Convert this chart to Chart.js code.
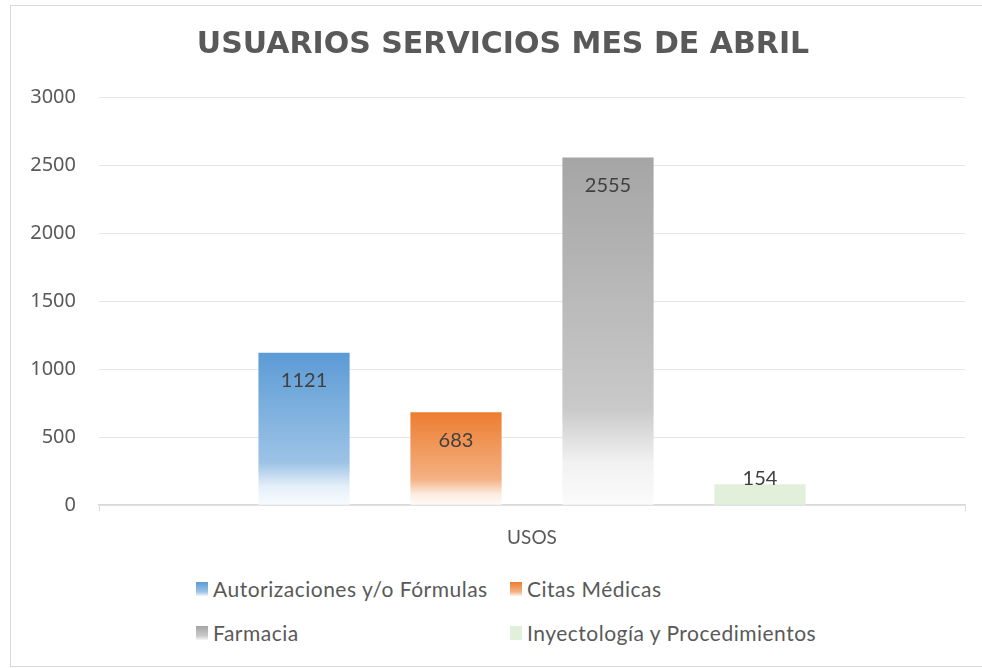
<!DOCTYPE html>
<html>
<head>
<meta charset="utf-8">
<script src="https://cdn.jsdelivr.net/npm/chart.js@4"></script>
<style>
    body { margin: 0; background: #fff; width: 982px; height: 668px; overflow: hidden; }
    #frame { position: absolute; left: 10px; top: 5px; width: 990px; height: 660px; border: 1px solid #d9d9d9; }
    #wrap { position: absolute; left: 0; top: 0; width: 972px; height: 558px; }
    #legend { position: absolute; left: 0; top: 554px; width: 972px; font-family: Lato, sans-serif; font-size: 21px; letter-spacing: 0.5px; color: #595959; }
    .item { position: absolute; display: flex; align-items: center; white-space: nowrap; }
    .box { width: 12px; height: 14px; margin-right: 5px; }
</style>
</head>
<body>
<div id="frame">
    <div id="wrap"><canvas id="chart"></canvas></div>
    <div id="legend"></div>
</div>
<script>
// Datos
const chartTitle = 'USUARIOS SERVICIOS MES DE ABRIL';
const categories = ['USOS'];
const seriesNames = ['Autorizaciones y/o Fórmulas', 'Citas Médicas', 'Farmacia', 'Inyectología y Procedimientos'];
const seriesValues = [[1121], [683], [2555], [154]];
const seriesColors = ['#5b9bd5', '#ed7d31', '#a5a5a5', '#e2efda'];
const yTicks = [0, 500, 1000, 1500, 2000, 2500, 3000];

// Mezclar color con blanco
function tint(hex, t) {
    const n = parseInt(hex.slice(1), 16);
    const r = (n >> 16) & 255, g = (n >> 8) & 255, b = n & 255;
    const mix = c => Math.round(c + (255 - c) * t);
    return `rgb(${mix(r)}, ${mix(g)}, ${mix(b)})`;
}

function barFill(ctx) {
    const chart = ctx.chart;
    const color = seriesColors[ctx.datasetIndex];
    const y = chart.scales.y;
    if (!chart.chartArea || !y || ctx.datasetIndex === 3) return color;
    const top = y.getPixelForValue(ctx.raw);
    const base = y.getPixelForValue(0);
    if (!isFinite(top) || !isFinite(base) || base - top < 1) return color;
    const g = chart.ctx.createLinearGradient(0, top, 0, base);
    g.addColorStop(0, color);
    g.addColorStop(0.72, tint(color, 0.4));
    g.addColorStop(0.88, tint(color, 0.85));
    g.addColorStop(1, tint(color, 0.96));
    return g;
}

// Etiquetas de datos
const valueLabels = {
    id: 'valueLabels',
    afterDatasetsDraw(chart) {
        const ctx = chart.ctx;
        ctx.save();
        ctx.font = '20px Lato, sans-serif';
        ctx.fillStyle = '#404040';
        ctx.textAlign = 'center';
        ctx.textBaseline = 'middle';
        chart.data.datasets.forEach((ds, i) => {
            chart.getDatasetMeta(i).data.forEach((bar, j) => {
                const y = Math.min(bar.y + 28, bar.base - 26);
                ctx.fillText(String(ds.data[j]), bar.x, y);
            });
        });
        ctx.restore();
    }
};

// Título (algo desplazado a la derecha, como en Excel)
const titleText = {
    id: 'titleText',
    afterDraw(chart) {
        const ctx = chart.ctx;
        ctx.save();
        ctx.font = 'bold 30px "DejaVu Sans", sans-serif';
        ctx.fillStyle = '#595959';
        ctx.textAlign = 'center';
        ctx.textBaseline = 'middle';
        ctx.fillText(chartTitle, chart.width / 2 + 6, 39);
        ctx.restore();
    }
};

const chart = new Chart(document.getElementById('chart'), {
    type: 'bar',
    data: {
        labels: categories,
        datasets: seriesNames.map((name, i) => ({
            label: name,
            data: seriesValues[i],
            backgroundColor: barFill,
            borderWidth: 0,
            categoryPercentage: 0.702,
            barPercentage: 0.6
        }))
    },
    options: {
        responsive: true,
        maintainAspectRatio: false,
        animation: false,
        layout: { padding: { left: 0, right: 18, top: 91, bottom: 0 } },
        plugins: {
            legend: { display: false },
            tooltip: { enabled: false },
            title: { display: false }
        },
        scales: {
            x: {
                grid: { offset: true, drawOnChartArea: false, drawTicks: true, tickLength: 6, color: '#d9d9d9' },
                border: { color: '#d9d9d9', width: 1.5 },
                ticks: { color: '#595959', font: { family: 'Lato', size: 19 }, padding: 15 }
            },
            y: {
                min: 0,
                max: 3000,
                afterFit(scale) { scale.width = 88; },
                afterBuildTicks(scale) { scale.ticks = yTicks.map(v => ({ value: v })); },
                grid: { color: '#e6e6e6', drawTicks: false },
                border: { display: false },
                ticks: {
                    color: '#595959',
                    font: { family: 'Noto Sans', size: 20 },
                    padding: 23,
                    callback: v => String(v)
                }
            }
        }
    },
    plugins: [valueLabels, titleText]
});

// Leyenda en dos columnas
const legend = document.getElementById('legend');
const legendPos = [[185, 28], [499, 28], [185, 72], [499, 72]];
seriesNames.forEach((name, i) => {
    const item = document.createElement('div');
    item.className = 'item';
    item.style.left = legendPos[i][0] + 'px';
    item.style.top = (legendPos[i][1] - 12) + 'px';
    const box = document.createElement('span');
    box.className = 'box';
    const c = seriesColors[i];
    box.style.background = i === 3 ? c : `linear-gradient(${c}, ${tint(c, 0.4)} 70%, ${tint(c, 0.9)})`;
    const txt = document.createElement('span');
    txt.textContent = name;
    item.appendChild(box);
    item.appendChild(txt);
    legend.appendChild(item);
});
</script>
</body>
</html>
